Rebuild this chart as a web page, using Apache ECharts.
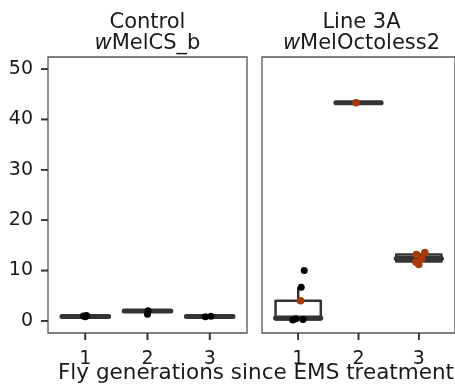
<!DOCTYPE html>
<html>
<head>
<meta charset="utf-8">
<script src="https://cdn.jsdelivr.net/npm/echarts@6/dist/echarts.min.js"></script>
<style>
  html, body { margin: 0; padding: 0; background: #ffffff; }
  #chart { width: 455px; height: 386px; }
</style>
</head>
<body>
<div id="chart"></div>
<script>
// Generations after EMS treatment (x categories) and their numeric positions
const generations = ['1', '2', '3'];
const genPositions = [1, 2, 3];
const yTicks = [0, 10, 20, 30, 40, 50];

// Box summaries per generation: [min, Q1, median, Q3, max]
const controlBoxes = [
  [0.8, 0.85, 0.9, 1.0, 1.1],
  [1.3, 1.8, 1.95, 2.0, 2.05],
  [0.8, 0.85, 0.9, 0.95, 1.0]
];
const lineBoxes = [
  [0.2, 0.3, 0.6, 4.0, 6.7],
  [43.3, 43.3, 43.3, 43.3, 43.3],
  [11.2, 11.8, 12.4, 13.2, 13.6]
];

// Individual flies: [generation + jitter, value]
const controlPoints = [
  [0.97, 1.0], [1.0, 0.85], [1.02, 1.05],
  [2.01, 2.0], [2.0, 1.3],
  [2.93, 0.85], [3.02, 0.95]
];
const linePointsBlack = [
  [1.1, 10.0], [1.05, 6.7], [0.91, 0.2], [0.96, 0.45], [1.08, 0.3]
];
const linePointsRed = [
  [1.04, 4.0],
  [1.96, 43.3],
  [2.96, 13.2], [3.1, 13.6], [3.05, 12.4], [2.95, 11.7], [3.0, 11.2]
];

const X_MIN = 0.4, X_MAX = 3.6, Y_MIN = -2.4, Y_MAX = 52.4;
const FONT = 'DejaVu Sans';
const INK = '#1a1a1a';
const BOX = '#333333';
const FRAME = '#555555';
const RED = '#aa3a0a';
const TICK_LEN = 7, TICK_W = 1.6;

function boxRenderer(params, api) {
  const x = api.value(0);
  const pMin = api.coord([x, api.value(1)]);
  const pQ1 = api.coord([x, api.value(2)]);
  const pMed = api.coord([x, api.value(3)]);
  const pQ3 = api.coord([x, api.value(4)]);
  const pMax = api.coord([x, api.value(5)]);
  const half = api.size([0.375, 0])[0];
  const cx = pMed[0];
  return {
    type: 'group',
    children: [
      { type: 'line', shape: { x1: cx, y1: pQ3[1], x2: cx, y2: pMax[1] }, style: { stroke: BOX, lineWidth: 2.5 } },
      { type: 'line', shape: { x1: cx, y1: pQ1[1], x2: cx, y2: pMin[1] }, style: { stroke: BOX, lineWidth: 2.5 } },
      { type: 'rect', shape: { x: cx - half, y: pQ3[1], width: 2 * half, height: pQ1[1] - pQ3[1] },
        style: { fill: '#ffffff', stroke: BOX, lineWidth: 2.5, lineJoin: 'round' } },
      { type: 'line', shape: { x1: cx - half, y1: pMed[1], x2: cx + half, y2: pMed[1] },
        style: { stroke: BOX, lineWidth: 5, lineCap: 'round' } }
    ]
  };
}

function boxData(boxes) {
  return boxes.map((b, i) => [genPositions[i]].concat(b));
}

function makeGrid(left) {
  return { left: left, top: 57, width: 199, height: 276, show: true,
           borderColor: FRAME, borderWidth: 1.3 };
}

function makeXAxis(idx) {
  return {
    gridIndex: idx, type: 'value', min: X_MIN, max: X_MAX, position: 'bottom',
    axisLine: { show: false, onZero: false },
    splitLine: { show: false },
    axisTick: { show: false },
    axisLabel: {
      customValues: genPositions,
      formatter: v => generations[genPositions.indexOf(v)],
      fontFamily: FONT, fontSize: 19, color: INK, margin: 17
    }
  };
}

function makeYAxis(idx, showLabels) {
  return {
    gridIndex: idx, type: 'value', min: Y_MIN, max: Y_MAX, position: 'left',
    axisLine: { show: false, onZero: false },
    splitLine: { show: false },
    axisTick: { show: false },
    axisLabel: { show: showLabels, customValues: yTicks, fontFamily: FONT, fontSize: 19, color: INK, margin: 15 }
  };
}

function stripText(x, line1, line2Rest) {
  return [
    { type: 'text', x: x, y: 22.5, style: { text: line1, font: '21px "' + FONT + '"', fill: INK, align: 'center', verticalAlign: 'middle' } },
    { type: 'text', x: x, y: 44, style: {
        text: '{i|w}{n|' + line2Rest + '}', align: 'center', verticalAlign: 'middle', fill: INK,
        font: '21px "' + FONT + '"',
        rich: {
          i: { fontFamily: FONT, fontSize: 21, fontStyle: 'italic', fill: INK },
          n: { fontFamily: FONT, fontSize: 21, fill: INK }
        }
      } }
  ];
}

const chart = echarts.init(document.getElementById('chart'), null, { renderer: 'canvas' });
chart.setOption({
  animation: false,
  backgroundColor: '#ffffff',
  grid: [makeGrid(48), makeGrid(262)],
  xAxis: [makeXAxis(0), makeXAxis(1)],
  yAxis: [makeYAxis(0, true), makeYAxis(1, false)],
  series: [
    { type: 'custom', xAxisIndex: 0, yAxisIndex: 0, renderItem: boxRenderer,
      encode: { x: 0, y: [1, 2, 3, 4, 5] }, data: boxData(controlBoxes), z: 2 },
    { type: 'custom', xAxisIndex: 1, yAxisIndex: 1, renderItem: boxRenderer,
      encode: { x: 0, y: [1, 2, 3, 4, 5] }, data: boxData(lineBoxes), z: 2 },
    { type: 'scatter', xAxisIndex: 0, yAxisIndex: 0, data: controlPoints, symbolSize: 7,
      itemStyle: { color: '#000000', opacity: 1 }, z: 3 },
    { type: 'scatter', xAxisIndex: 1, yAxisIndex: 1, data: linePointsBlack, symbolSize: 7,
      itemStyle: { color: '#000000', opacity: 1 }, z: 3 },
    { type: 'scatter', xAxisIndex: 1, yAxisIndex: 1, data: linePointsRed, symbolSize: 7.5,
      itemStyle: { color: RED, opacity: 1 }, z: 4 },
    // outward tick marks as small filled bars hanging off the panel edges
    { type: 'scatter', xAxisIndex: 0, yAxisIndex: 0, clip: false, silent: true, z: 5,
      data: yTicks.map(v => [X_MIN, v]), symbol: 'rect', symbolSize: [TICK_LEN, TICK_W],
      symbolOffset: [-TICK_LEN / 2, 0], itemStyle: { color: BOX, opacity: 1 } },
    { type: 'scatter', xAxisIndex: 0, yAxisIndex: 0, clip: false, silent: true, z: 5,
      data: genPositions.map(g => [g, Y_MIN]), symbol: 'rect', symbolSize: [TICK_W, TICK_LEN],
      symbolOffset: [0, TICK_LEN / 2], itemStyle: { color: BOX, opacity: 1 } },
    { type: 'scatter', xAxisIndex: 1, yAxisIndex: 1, clip: false, silent: true, z: 5,
      data: genPositions.map(g => [g, Y_MIN]), symbol: 'rect', symbolSize: [TICK_W, TICK_LEN],
      symbolOffset: [0, TICK_LEN / 2], itemStyle: { color: BOX, opacity: 1 } }
  ]
});

// Text layer plus a second set of tick bars placed through the panels' scales
const tickRects = [];
[0, 1].forEach(gi => {
  genPositions.forEach(g => {
    const p = chart.convertToPixel({ xAxisIndex: gi, yAxisIndex: gi }, [g, Y_MIN]);
    if (p && isFinite(p[0]) && isFinite(p[1])) {
      tickRects.push({ type: 'rect', z: 100, silent: true,
        shape: { x: p[0] - TICK_W / 2, y: p[1], width: TICK_W, height: TICK_LEN },
        style: { fill: BOX } });
    }
  });
});
yTicks.forEach(v => {
  const p = chart.convertToPixel({ xAxisIndex: 0, yAxisIndex: 0 }, [X_MIN, v]);
  if (p && isFinite(p[0]) && isFinite(p[1])) {
    tickRects.push({ type: 'rect', z: 100, silent: true,
      shape: { x: p[0] - TICK_LEN, y: p[1] - TICK_W / 2, width: TICK_LEN, height: TICK_W },
      style: { fill: BOX } });
  }
});

chart.setOption({
  graphic: {
    elements: [].concat(
      stripText(147.5, 'Control', 'MelCS_b'),
      stripText(361.5, 'Line 3A', 'MelOctoless2'),
      [{ type: 'text', x: 256, y: 373, style: {
          text: 'Fly generations since EMS treatment', font: '21.5px "' + FONT + '"',
          fill: INK, align: 'center', verticalAlign: 'middle' } }],
      tickRects
    )
  }
});
</script>
</body>
</html>
